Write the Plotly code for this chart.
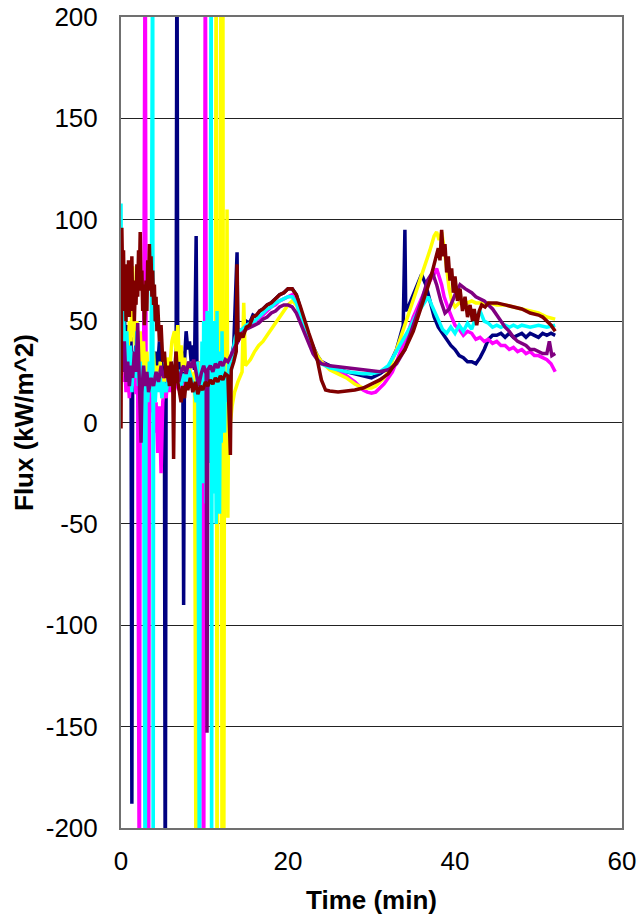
import plotly.graph_objects as go

# ---------------- data ----------------
navy_t = [0.0,0.2,0.4,0.6,0.8,1.0,1.2,1.3,1.4,1.6,1.8,2.0,2.2,2.4,2.6,2.8,3.0,3.2,3.4,3.6,3.8,4.0,4.2,4.4,4.6,4.8,5.0,5.2,5.3,5.4,5.6,5.8,6.0,6.2,6.4,6.6,6.7,6.8,7.0,7.2,7.4,7.5,7.6,7.8,8.0,8.2,8.4,8.6,8.8,9.0,9.1,9.3,9.6,9.9,10.2,10.5,10.8,11.1,11.4,11.7,12.0,12.3,12.6,12.9,13.2,13.5,13.9,14.0,14.3,14.6,15.0,15.4,15.8,16.2,16.6,17.0,17.5,18.0,18.5,19.0,19.5,20.0,20.5,21.0,21.5,22.0,22.5,23.0,23.5,24.0,25.0,26.0,27.0,28.0,29.0,30.0,31.0,32.0,33.0,33.8,34.0,34.1,34.5,35.0,35.5,36.0,36.5,37.0,37.5,38.0,38.5,39.0,39.5,40.0,40.5,41.0,41.5,42.0,42.5,43.0,43.5,44.0,44.5,45.0,45.5,46.0,46.5,47.0,47.5,48.0,48.5,49.0,49.5,50.0,50.5,51.0,51.5,52.0]
navy_v = [45,40,52,35,48,30,42,-188,35,28,40,22,32,18,30,20,26,15,28,20,30,24,35,28,40,30,25,18,-260,20,28,22,30,25,20,28,260,24,30,22,35,-90,30,45,36,40,30,38,26,92,25,30,20,28,22,26,18,24,20,26,22,28,25,30,32,38,84,40,46,44,50,49,53,52,55,56,58,59,61,63,64,66,66,63,56,48,42,37,33,30,28,26,25,24,23,22,24,27,36,48,95,55,58,63,68,73,68,60,52,47,44,41,38,36,33,32,30,30,29,32,36,41,43,43,44,42,44,42,43,44,42,44,43,42,44,43,44,43]

magenta_t = [0.0,0.2,0.4,0.6,0.8,1.0,1.2,1.4,1.6,1.8,2.0,2.2,2.3,2.5,2.7,2.9,3.0,3.1,3.3,3.4,3.6,3.8,4.0,4.2,4.4,4.6,4.8,5.0,5.2,5.4,5.6,5.8,6.0,6.3,6.6,6.9,7.2,7.5,7.8,8.1,8.4,8.7,9.0,9.3,9.6,9.9,10.0,10.1,10.2,10.5,10.8,11.1,11.4,11.7,12.0,12.3,12.6,12.9,13.2,13.5,14.0,14.5,15.0,15.5,16.0,16.5,17.0,17.5,18.0,18.5,19.0,19.5,20.0,20.5,21.0,21.5,22.0,22.5,23.0,23.5,24.0,25.0,26.0,27.0,28.0,28.5,29.0,29.5,30.0,30.5,31.0,31.5,32.0,32.5,33.0,33.5,34.0,34.5,35.0,35.5,36.0,36.5,37.0,37.5,37.8,38.1,38.4,38.7,39.0,39.3,39.6,40.0,40.5,41.0,41.5,42.0,42.5,43.0,43.5,44.0,44.5,45.0,45.5,46.0,46.5,47.0,47.5,48.0,48.5,49.0,49.5,50.0,50.5,51.0,51.5,52.0]
magenta_v = [30,20,35,15,25,12,28,18,30,14,22,-260,15,25,10,260,20,12,-260,18,5,12,-5,10,-15,8,-25,10,18,12,22,15,20,14,22,16,20,15,22,18,24,20,25,18,26,-260,22,260,25,20,28,22,30,25,28,24,30,28,32,36,40,44,47,48,50,51,53,55,57,58,60,61,62,63,60,54,47,41,36,32,30,27,25,23,20,18,16,15,14.5,15,17,19,22,25,30,35,40,46,52,57,62,66,70,73,76,72,68,62,58,55,52,48,46,43,45,44,41,42,40,41,39,40,38,38,36,37,35,36,34,35,33,33,32,31,29,25]

yellow_t = [0.0,0.2,0.4,0.6,0.8,1.0,1.2,1.4,1.5,1.7,1.9,2.1,2.3,2.5,2.7,2.9,3.1,3.3,3.5,3.7,3.9,4.1,4.3,4.5,4.7,4.9,5.1,5.3,5.5,5.8,6.1,6.4,6.6,6.8,7.0,7.2,7.4,7.6,7.9,8.2,8.5,8.8,9.0,9.1,9.3,9.6,9.9,10.2,10.5,10.8,11.1,11.3,11.4,11.5,11.6,11.8,12.0,12.1,12.2,12.3,12.4,12.6,12.7,12.8,12.9,13.1,13.3,13.6,14.0,14.5,14.7,14.9,15.5,16.0,16.5,17.0,17.5,18.0,18.5,19.0,19.5,20.0,20.5,21.0,21.5,22.0,22.5,23.0,23.5,24.0,25.0,26.0,27.0,28.0,29.0,30.0,30.5,31.0,31.5,32.0,32.5,33.0,33.5,34.0,34.5,35.0,35.5,36.0,36.5,37.0,37.5,37.8,38.1,38.4,38.7,39.0,39.3,39.6,40.0,40.5,41.0,41.5,42.0,42.5,43.0,44.0,45.0,46.0,47.0,48.0,49.0,50.0,51.0,52.0]
yellow_v = [20,35,25,45,30,50,40,77,55,38,50,30,45,25,40,20,35,18,30,22,35,15,28,18,30,12,25,20,32,25,40,45,35,48,30,38,25,32,22,28,20,25,-260,22,30,15,25,10,28,15,30,20,260,-260,25,10,260,-260,260,-260,30,-20,105,-47,10,0,8,15,20,25,59,28,31,35,38,40,43,46,49,52,55,58,60,58,53,46,41,37,33,30,26,24,22,19,17,17,18,20,22,25,30,36,42,48,54,60,66,72,78,85,92,94,90,94,86,75,66,60,57,59,60,59,60,59,59,59,58,58,57,56,55,54,52,51]

cyan_t = [0.0,0.1,0.3,0.5,0.7,0.9,1.1,1.3,1.5,1.7,1.9,2.1,2.3,2.5,2.7,2.9,3.0,3.2,3.4,3.6,3.8,3.85,3.9,4.1,4.3,4.5,4.7,4.9,5.1,5.4,5.7,6.0,6.3,6.6,6.9,7.2,7.5,7.8,8.1,8.4,8.7,9.0,9.2,9.4,9.5,9.6,9.7,9.8,9.9,10.0,10.1,10.2,10.3,10.4,10.5,10.6,10.7,10.8,10.85,10.9,11.0,11.1,11.2,11.3,11.4,11.5,11.6,11.7,11.8,11.9,12.0,12.1,12.2,12.3,12.4,12.5,12.7,12.9,13.1,13.4,13.7,14.0,14.5,15.0,15.5,16.0,16.5,17.0,17.5,18.0,18.5,19.0,19.5,20.0,20.5,21.0,21.5,22.0,22.5,23.0,23.5,24.0,25.0,26.0,27.0,28.0,29.0,30.0,31.0,32.0,33.0,34.0,34.5,35.0,35.5,36.0,36.5,36.8,37.2,37.5,38.0,38.5,39.0,39.5,40.0,40.5,41.0,41.5,42.0,42.5,43.0,43.5,44.0,44.5,45.0,45.5,46.0,46.5,47.0,47.5,48.0,49.0,50.0,51.0,52.0]
cyan_v = [108,40,55,25,45,20,38,15,35,22,45,18,30,12,28,-260,25,10,30,15,260,-260,20,10,25,15,22,12,20,15,22,18,25,20,26,18,24,20,26,22,18,10,30,-260,25,-10,40,-30,50,-15,35,-40,55,0,45,-20,60,260,-260,30,-35,50,-10,40,-50,55,-20,35,-45,30,-10,45,0,30,-5,25,10,30,20,35,42,45,46,48,49,50,52,54,56,57,59,60,61,62,62,59,52,45,40,35,31,29,27,26,25,24.5,24,24,25,28,35,42,46,50,54,57,60,62,58,55,50,46,44,47,44,48,45,49,46,52,55,50,49,47,48,47,48,47,48,47,48,47,48,47,48]

purple_t = [0.0,0.2,0.4,0.6,0.8,1.0,1.2,1.4,1.6,1.8,2.0,2.2,2.4,2.5,2.7,2.9,3.1,3.3,3.6,3.9,4.2,4.5,4.8,5.1,5.4,5.7,6.0,6.3,6.6,6.9,7.2,7.5,7.8,8.1,8.4,8.7,9.0,9.3,9.6,9.9,10.2,10.3,10.4,10.7,11.0,11.3,11.6,11.9,12.2,12.5,12.8,13.1,13.5,14.0,14.5,15.0,15.5,16.0,16.5,17.0,17.5,18.0,18.5,19.0,19.5,20.0,20.5,21.0,21.5,22.0,22.5,23.0,23.5,24.0,25.0,26.0,27.0,28.0,29.0,30.0,31.0,32.0,33.0,34.0,35.0,36.0,36.7,37.3,37.8,38.3,38.8,39.3,40.0,40.6,41.2,42.0,42.5,43.0,43.5,44.0,44.5,45.0,45.5,46.0,46.5,47.0,47.5,48.0,48.5,49.0,49.5,50.0,50.5,51.0,51.3,51.6,52.0]
purple_v = [35,25,40,20,30,18,28,22,35,25,49,20,-10,15,28,18,25,15,22,18,25,20,28,22,26,20,28,22,26,20,25,28,24,30,27,31,25,18,24,28,24,-153,26,28,25,29,27,30,28,31,30,33,36,40,44,46,47,48,49,51,52,54,55,57,58,58,57,54,49,44,39,34,31,29,28,27.5,27,26.5,26,25.5,25,26,29,36,48,60,70,74,68,60,54,56,63,68,66,64,62,61,60,58,56,53,50,47,45,42,40,39,38,36,36,35,34,34,40,33,34]

darkred_t = [0.0,0.05,0.1,0.2,0.3,0.4,0.5,0.6,0.7,0.8,0.9,1.0,1.1,1.2,1.3,1.4,1.5,1.6,1.7,1.8,1.9,2.0,2.1,2.2,2.3,2.4,2.5,2.6,2.7,2.8,2.9,3.0,3.1,3.2,3.3,3.4,3.5,3.6,3.7,3.8,3.9,4.0,4.1,4.2,4.3,4.4,4.6,4.8,5.0,5.2,5.4,5.6,5.8,6.0,6.2,6.3,6.4,6.6,6.8,7.0,7.2,7.4,7.6,7.8,8.0,8.3,8.6,8.9,9.2,9.5,9.8,10.1,10.4,10.7,11.0,11.3,11.6,11.9,12.2,12.5,12.8,13.1,13.2,13.5,13.8,13.9,14.0,14.3,14.6,15.0,15.4,15.8,16.2,16.6,17.0,17.5,18.0,18.5,19.0,19.5,20.0,20.5,21.0,21.5,22.0,22.5,23.0,23.5,24.0,24.5,25.0,26.0,27.0,28.0,29.0,30.0,31.0,32.0,33.0,34.0,35.0,36.0,36.5,37.0,37.5,38.0,38.2,38.4,38.6,38.8,39.0,39.2,39.4,39.6,39.8,40.0,40.3,40.6,40.9,41.2,41.5,41.8,42.1,42.3,42.6,42.9,43.2,43.6,44.0,45.0,46.0,47.0,48.0,49.0,50.0,50.5,51.0,51.5,52.0]
darkred_v = [-3,60,96,70,85,55,78,50,72,58,80,52,75,60,82,55,70,50,65,58,78,62,85,70,94,65,75,55,68,48,60,70,55,80,65,88,70,82,62,75,58,68,50,62,45,58,40,48,30,35,22,28,18,30,20,-18,25,35,20,15,10,18,12,20,16,22,15,20,14,18,16,20,18,21,19,22,20,23,21,24,23,-16,26,30,35,78,40,44,42,47,48,52,53,55,56,58,59,61,63,64,66,66,63,57,50,44,38,31,21,16,15.5,15,15.5,16,17,19,21,24,30,36,45,57,63,70,78,86,80,95,82,88,74,82,70,76,64,72,60,66,55,62,52,58,50,56,48,55,58,57,59,59,58,57,56,54,53,52,50,48,45]

series = [
    ("navy", navy_t, navy_v, "#000080"),
    ("magenta", magenta_t, magenta_v, "#FF00FF"),
    ("yellow", yellow_t, yellow_v, "#FFFF00"),
    ("cyan", cyan_t, cyan_v, "#00FFFF"),
    ("purple", purple_t, purple_v, "#800080"),
    ("darkred", darkred_t, darkred_v, "#800000"),
]

x_ticks = [0, 20, 40, 60]
y_ticks = [-200, -150, -100, -50, 0, 50, 100, 150, 200]

fig = go.Figure()
for name, t, v, col in series:
    fig.add_trace(go.Scatter(x=t, y=v, mode="lines", name=name,
                             line=dict(color=col, width=3.5), showlegend=False))

font_family = "Liberation Sans, Arial, sans-serif"
fig.update_layout(
    width=638, height=915,
    margin=dict(l=121, r=16, t=17, b=87),
    paper_bgcolor="white", plot_bgcolor="white",
    font=dict(family=font_family, size=26, color="black"),
    showlegend=False,
)
fig.update_xaxes(
    range=[0, 60], tickvals=x_ticks, ticktext=[str(v) for v in x_ticks],
    showgrid=False, zeroline=False, automargin=False, ticklabeloverflow="allow",
    showline=True, mirror=True, linecolor="#707070", linewidth=2,
    ticks="", ticklabelstandoff=9,
    title=dict(text="<b>Time (min)</b>", font=dict(size=26), standoff=16),
)
fig.update_yaxes(
    range=[-200, 200], tickvals=y_ticks, ticktext=[str(v) for v in y_ticks],
    showgrid=True, gridcolor="#222222", gridwidth=1, zeroline=False,
    showline=True, mirror=True, linecolor="#707070", linewidth=2, automargin=False,
    ticklabeloverflow="allow",
    ticks="", ticklabelstandoff=16,
    title=dict(text="<b>Flux (kW/m^2)</b>", font=dict(size=26), standoff=5),
)

fig.write_html(
    "out.html",
    config={"displayModeBar": False},
    post_script="document.body.style.margin='0';document.body.style.overflow='hidden';",
)
